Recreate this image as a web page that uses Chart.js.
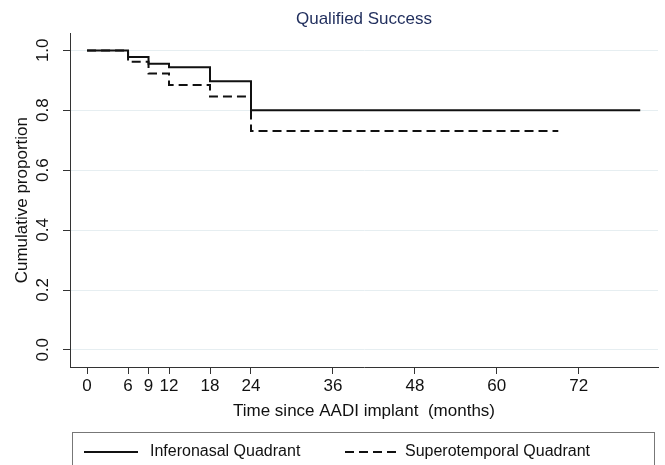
<!DOCTYPE html>
<html>
<head>
<meta charset="utf-8">
<script src="https://cdn.jsdelivr.net/npm/chart.js@4.4.0/dist/chart.umd.min.js"></script>
<style>
  html, body { margin: 0; padding: 0; background: #fff; }
  #wrap { width: 665px; height: 465px; }
</style>
</head>
<body>
<div id="wrap"><canvas id="myChart" width="665" height="465"></canvas></div>
<script>
// Kaplan-Meier steps
const inferoMonths = [0, 6, 9, 12, 18, 24, 81];
const inferoSurv = [1.0, 0.978, 0.956, 0.944, 0.897, 0.80, 0.80];
const superoMonths = [0, 6, 9, 12, 18, 24, 69];
const superoSurv = [1.0, 0.962, 0.923, 0.885, 0.846, 0.731, 0.731];

const xTickValues = [0, 6, 9, 12, 18, 24, 36, 48, 60, 72];
const yTickValues = [0, 0.2, 0.4, 0.6, 0.8, 1.0];

const seriesNames = ['Inferonasal Quadrant', 'Superotemporal Quadrant'];

function toPoints(xs, ys) {
  return xs.map(function(x, i) { return {x: x, y: ys[i]}; });
}

const FONT = "'Liberation Sans', Arial, sans-serif";

// draws the boxed legend under the x axis title
const boxLegend = {
  id: 'boxLegend',
  afterDraw: function(chart) {
    const ctx = chart.ctx;
    ctx.save();
    ctx.strokeStyle = '#777';
    ctx.lineWidth = 1;
    ctx.strokeRect(72.5, 432.5, 582, 40);
    const starts = [84, 345];
    const textX = [150, 405];
    const y = 452;
    chart.data.datasets.forEach(function(ds, i) {
      ctx.beginPath();
      ctx.strokeStyle = ds.borderColor;
      ctx.lineWidth = ds.borderWidth;
      ctx.setLineDash(ds.borderDash || []);
      ctx.moveTo(starts[i], y);
      ctx.lineTo(starts[i] + 54, y);
      ctx.stroke();
      ctx.setLineDash([]);
      ctx.fillStyle = '#111';
      ctx.font = '16px ' + FONT;
      ctx.textBaseline = 'middle';
      ctx.fillText(ds.label, textX[i], y);
    });
    ctx.restore();
  }
};

var ctx = document.getElementById('myChart').getContext('2d');
var config = {
  type: 'line',
  data: {
    datasets: [{
      label: seriesNames[0],
      data: toPoints(inferoMonths, inferoSurv),
      borderColor: '#111',
      borderWidth: 2,
      stepped: 'before',
      pointRadius: 0,
      fill: false
    }, {
      label: seriesNames[1],
      data: toPoints(superoMonths, superoSurv),
      borderColor: '#111',
      borderWidth: 2,
      borderDash: [9, 5],
      stepped: 'before',
      pointRadius: 0,
      fill: false
    }]
  },
  options: {
    responsive: false,
    animation: false,
    layout: { padding: { left: 0, right: 7, top: 0, bottom: 40 } },
    plugins: {
      legend: { display: false },
      tooltip: { enabled: false },
      title: {
        display: true,
        fullSize: false,
        text: 'Qualified Success',
        color: '#1f2d5c',
        font: { family: FONT, size: 17, weight: 'normal' },
        padding: { top: 9, bottom: 4 }
      }
    },
    scales: {
      x: {
        type: 'linear',
        min: -2.5,
        max: 83.6,
        afterBuildTicks: function(scale) {
          scale.ticks = xTickValues.map(function(v) { return {value: v}; });
        },
        afterFit: function(scale) { scale.height = 58; },
        ticks: {
          color: '#111',
          font: { family: FONT, size: 17 },
          padding: 2,
          maxRotation: 0,
          autoSkip: false
        },
        grid: {
          drawOnChartArea: false,
          drawTicks: true,
          tickLength: 7,
          tickColor: '#333'
        },
        border: { display: true, color: '#333', width: 1 },
        title: {
          display: true,
          text: 'Time since AADI implant  (months)',
          color: '#111',
          font: { family: FONT, size: 17 },
          padding: { top: 0, bottom: 3 }
        }
      },
      y: {
        type: 'linear',
        min: -0.057,
        max: 1.057,
        afterBuildTicks: function(scale) {
          scale.ticks = yTickValues.map(function(v) { return {value: v}; });
        },
        afterFit: function(scale) { scale.width = 70; },
        ticks: {
          color: '#111',
          font: { family: FONT, size: 17 },
          padding: 20,
          minRotation: 90,
          maxRotation: 90,
          labelOffset: -12,
          callback: function(v) { return v.toFixed(1); }
        },
        grid: {
          color: '#e6eef1',
          drawTicks: true,
          tickLength: 7,
          tickColor: '#333'
        },
        border: { display: true, color: '#333', width: 1 },
        title: {
          display: true,
          text: 'Cumulative proportion',
          color: '#111',
          font: { family: FONT, size: 17 },
          padding: { top: 12, bottom: 0 }
        }
      }
    }
  },
  plugins: [boxLegend]
};

var chart = new Chart(ctx, config);
</script>
</body>
</html>
